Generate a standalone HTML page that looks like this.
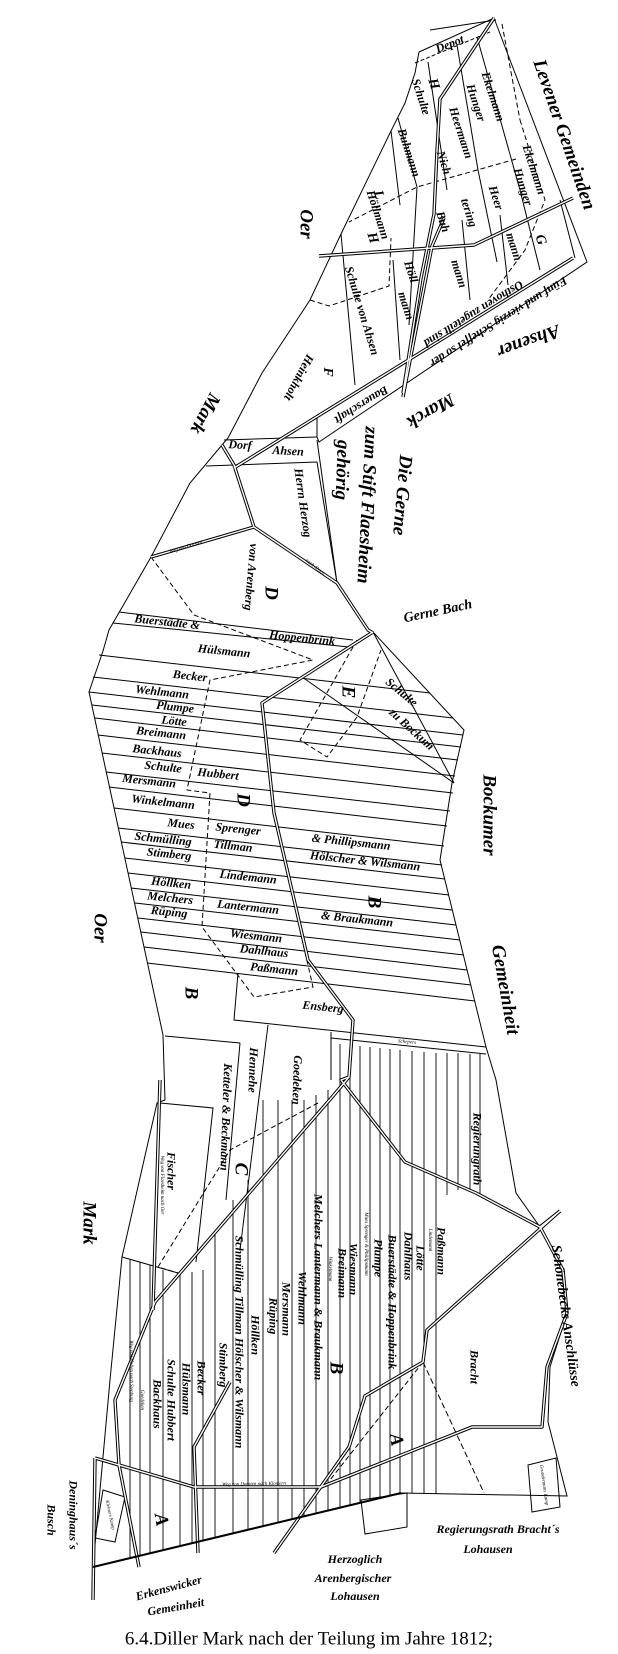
<!DOCTYPE html>
<html><head><meta charset="utf-8"><style>
html,body{margin:0;padding:0;background:#fff;}
svg{display:block;}
text{font-family:"Liberation Serif",serif;font-style:italic;font-weight:bold;fill:#000;}
.s{font-size:12px;}
.m{font-size:14px;}
.b{font-size:19px;}
.t{font-size:5px;font-weight:normal;}
.cap{font-family:"Liberation Serif",serif;font-style:normal;font-weight:normal;font-size:19px;}
</style></head><body>
<svg width="618" height="1654" viewBox="0 0 618 1654" xmlns="http://www.w3.org/2000/svg">
<g fill="none" stroke="#000" stroke-width="1">
<polyline points="419,52 415,73 405,103 391,131 341,234 310,300 262,373 228,438 222,445 190,483 151,557 109,630 103,651 89,692 163,1035 165,1100 157,1103 122,1257 110,1380 93,1567 401,1493 567,1496 548,1422 550,1367 567,1313 563,1270 540,1227 516,1193 496,1080 486,1047 440,860 452,783 464,730 373,632"/>
<polyline points="419,52 494,18 587,262 319,442 317,437 317,417"/>
<polyline points="317,440 337,583 368,630"/>
<line x1="415" y1="63" x2="490" y2="32" stroke-dasharray="4,2"/>
<line x1="502" y1="24" x2="520" y2="120" stroke-dasharray="5,3"/>
<polyline points="520,120 545,200 525,250 488,300" stroke-dasharray="5,3"/>
<line x1="428" y1="62" x2="447" y2="190"/>
<line x1="457" y1="45" x2="478" y2="170"/>
<line x1="478" y1="170" x2="497" y2="262"/>
<line x1="477" y1="37" x2="520" y2="190"/>
<line x1="520" y1="190" x2="540" y2="270"/>
<line x1="560" y1="200" x2="575" y2="258"/>
<line x1="398" y1="118" x2="417" y2="187"/>
<line x1="417" y1="187" x2="409" y2="325"/>
<line x1="391" y1="131" x2="400" y2="205"/>
<line x1="341" y1="234" x2="355" y2="385"/>
<line x1="393" y1="260" x2="400" y2="360"/>
<line x1="462" y1="220" x2="470" y2="300"/>
<line x1="500" y1="215" x2="508" y2="285"/>
<polyline points="516,159 417,187 349,222" stroke-dasharray="5,3"/>
<polyline points="310,300 329,306 389,286 391,238" stroke-dasharray="5,3"/>
<line x1="496" y1="20" x2="430" y2="30"/>
<polyline points="224,440 317,437"/>
<polyline points="206,466 317,462"/>
<line x1="317" y1="462" x2="337" y2="583"/>
<polyline points="151,557 194,615 313,660 210,680 187,790 210,793 202,927 254,997 313,987 300,930" stroke-dasharray="5,3"/>
<polyline points="357,640 300,740 327,757 357,717 381,650" stroke-dasharray="5,3"/>
<line x1="119" y1="612" x2="353" y2="640"/>
<line x1="113" y1="623" x2="349" y2="647"/>
<line x1="373" y1="632" x2="454" y2="783"/>
<line x1="302" y1="677" x2="454" y2="783"/>
<line x1="99" y1="655" x2="430" y2="693"/>
<line x1="93" y1="677" x2="453" y2="718"/>
<line x1="89" y1="692" x2="463" y2="735"/>
<line x1="92" y1="705" x2="461" y2="747"/>
<line x1="95" y1="718" x2="458" y2="760"/>
<line x1="98" y1="735" x2="455" y2="776"/>
<line x1="102" y1="753" x2="453" y2="793"/>
<line x1="106" y1="772" x2="450" y2="811"/>
<line x1="109" y1="787" x2="447" y2="826"/>
<line x1="114" y1="808" x2="444" y2="846"/>
<line x1="118" y1="828" x2="442" y2="865"/>
<line x1="121" y1="842" x2="445" y2="879"/>
<line x1="125" y1="858" x2="449" y2="895"/>
<line x1="128" y1="873" x2="452" y2="910"/>
<line x1="131" y1="888" x2="456" y2="925"/>
<line x1="135" y1="903" x2="460" y2="940"/>
<line x1="138" y1="918" x2="464" y2="955"/>
<line x1="141" y1="932" x2="467" y2="970"/>
<line x1="144" y1="947" x2="471" y2="985"/>
<line x1="147" y1="963" x2="475" y2="1001"/>
<polyline points="238,973 234,1020 486,1047"/>
<line x1="331" y1="1038" x2="486" y2="1054"/>
<line x1="165" y1="1036" x2="240" y2="1043"/>
<line x1="240" y1="1043" x2="226" y2="1200"/>
<line x1="268" y1="1025" x2="240" y2="1250"/>
<line x1="331" y1="1032" x2="331" y2="1080"/>
<polyline points="160,1103 213,1108 196,1262"/>
<polyline points="122,1257 178,1273"/>
<polyline points="318,1103 230,1150 158,1267 178,1273" stroke-dasharray="5,3"/>
<polyline points="423,1362 484,1493" stroke-dasharray="6,3"/>
<line x1="423" y1="1362" x2="330" y2="1480" stroke-dasharray="5,3"/>
<polygon points="361,1500 407,1493 407,1527 365,1534"/>
<polygon points="528,1465 556,1458 560,1507 532,1512"/>
<polygon points="103,1490 125,1497 115,1542 95,1538"/>
</g>
<g stroke="#000" stroke-width="0.9">
<line x1="340" y1="1044" x2="340" y2="1508"/><line x1="350" y1="1045" x2="350" y2="1505"/>
<line x1="360" y1="1046" x2="360" y2="1503"/><line x1="370" y1="1047" x2="370" y2="1500"/>
<line x1="380" y1="1048" x2="380" y2="1498"/><line x1="390" y1="1049" x2="390" y2="1496"/>
<line x1="400" y1="1050" x2="400" y2="1493"/><line x1="412" y1="1051" x2="412" y2="1493"/>
<line x1="424" y1="1052" x2="424" y2="1494"/><line x1="436" y1="1053" x2="436" y2="1494"/>
<line x1="447" y1="1053" x2="447" y2="1195"/><line x1="458" y1="1053" x2="458" y2="1190"/>
<line x1="470" y1="1054" x2="470" y2="1190"/><line x1="480" y1="1054" x2="480" y2="1195"/>
<line x1="328" y1="1090" x2="328" y2="1511"/><line x1="316" y1="1095" x2="316" y2="1514"/>
<line x1="304" y1="1100" x2="304" y2="1517"/><line x1="292" y1="1100" x2="292" y2="1520"/>
<line x1="278" y1="1100" x2="278" y2="1523"/><line x1="263" y1="1100" x2="263" y2="1527"/>
<line x1="248" y1="1180" x2="248" y2="1530"/><line x1="233" y1="1200" x2="233" y2="1534"/>
<line x1="215" y1="1230" x2="215" y2="1538"/><line x1="203" y1="1270" x2="203" y2="1541"/>
<line x1="192" y1="1272" x2="192" y2="1544"/><line x1="180" y1="1275" x2="180" y2="1546"/>
<line x1="163" y1="1270" x2="163" y2="1550"/><line x1="150" y1="1265" x2="150" y2="1553"/>
<line x1="140" y1="1262" x2="140" y2="1556"/><line x1="130" y1="1260" x2="130" y2="1558"/>
</g>
<g fill="none" stroke-linejoin="round">
<g stroke="#000" stroke-width="3.4">
<polyline points="494,18 440,99 437,151 434,214 421,278 403,393"/>
<polyline points="403,397 432,246 444,218"/>
<polyline points="319,256 474,245 573,198"/>
<polyline points="573,258 234,468"/>
<polyline points="222,445 234,465 254,527 337,583 368,630 373,633"/>
<polyline points="151,557 254,527"/>
<polyline points="373,632 262,703 274,813 308,960 353,1020 349,1077 341,1080 405,1162 476,1193 540,1227 560,1211"/>
<polyline points="349,1077 333,1096 155,1302 115,1400 119,1465 139,1567"/>
<polyline points="540,1227 563,1270 567,1313 547,1367 542,1427 472,1427 321,1487 194,1487 95,1458"/>
<polyline points="560,1211 427,1330 423,1362 365,1396 349,1447 274,1553"/>
<polyline points="230,1382 194,1447 198,1553"/>
<polyline points="160,1080 153,1310"/>
<polyline points="95,1458 93,1600"/>
</g>
<g stroke="#fff" stroke-width="1.4">
<polyline points="494,18 440,99 437,151 434,214 421,278 403,393"/>
<polyline points="403,397 432,246 444,218"/>
<polyline points="319,256 474,245 573,198"/>
<polyline points="573,258 234,468"/>
<polyline points="222,445 234,465 254,527 337,583 368,630 373,633"/>
<polyline points="151,557 254,527"/>
<polyline points="373,632 262,703 274,813 308,960 353,1020 349,1077 341,1080 405,1162 476,1193 540,1227 560,1211"/>
<polyline points="349,1077 333,1096 155,1302 115,1400 119,1465 139,1567"/>
<polyline points="540,1227 563,1270 567,1313 547,1367 542,1427 472,1427 321,1487 194,1487 95,1458"/>
<polyline points="560,1211 427,1330 423,1362 365,1396 349,1447 274,1553"/>
<polyline points="230,1382 194,1447 198,1553"/>
<polyline points="160,1080 153,1310"/>
<polyline points="95,1458 93,1600"/>
</g>
</g>
<line x1="93" y1="1567" x2="401" y2="1493" stroke="#000" stroke-width="2"/>
<g text-anchor="middle" dominant-baseline="middle">
<text class="s" transform="translate(450,45) rotate(-22)">Depot</text>
<text class="b" transform="translate(563,135) rotate(71)">Levener Gemeinden</text>
<text class="s" transform="translate(492,97) rotate(72)">Ekelmann</text>
<text class="s" transform="translate(475,103) rotate(72)">Hunger</text>
<text class="s" transform="translate(420,97) rotate(72)">Schulte</text>
<text class="m" transform="translate(433,84) rotate(72)">H</text>
<text class="s" transform="translate(460,133) rotate(72)">Heermann</text>
<text class="s" transform="translate(408,153) rotate(72)">Buhmann</text>
<text class="s" transform="translate(443,163) rotate(72)">Nich</text>
<text class="s" transform="translate(533,170) rotate(72)">Ekelmann</text>
<text class="s" transform="translate(522,187) rotate(72)">Hunger</text>
<text class="s" transform="translate(495,198) rotate(72)">Heer</text>
<text class="s" transform="translate(468,213) rotate(72)">tering</text>
<text class="m" transform="translate(378,195) rotate(72)">L</text>
<text class="s" transform="translate(377,215) rotate(72)">Höllmann</text>
<text class="m" transform="translate(372,238) rotate(72)">H</text>
<text class="s" transform="translate(442,222) rotate(72)">Buh</text>
<text class="s" transform="translate(513,247) rotate(72)">mann</text>
<text class="m" transform="translate(540,240) rotate(72)">G</text>
<text class="b" transform="translate(305,224) rotate(90)">Oer</text>
<text class="s" transform="translate(410,272) rotate(72)">Höll</text>
<text class="s" transform="translate(405,306) rotate(72)">mann</text>
<text class="s" transform="translate(458,274) rotate(72)">mann</text>
<text class="s" transform="translate(361,311) rotate(73)">Schulte von Ahsen</text>
<text class="s" transform="translate(473,313) rotate(148)">Osthoven zugeteilt sind</text>
<text class="s" transform="translate(498,321) rotate(148)">Fünf und vierzig Scheffel so der</text>
<text class="s" transform="translate(361,404) rotate(148)">Bauerschaft</text>
<text class="b" transform="translate(528,340) rotate(160)">Ahsener</text>
<text class="b" transform="translate(430,410) rotate(150)">Marck</text>
<text class="b" transform="translate(204,413) rotate(118)">Mark</text>
<text class="m" transform="translate(327,372) rotate(90)">F</text>
<text class="s" transform="translate(298,377) rotate(118)">Heinkholt</text>
<text class="s" transform="translate(240,446) rotate(3)">Dorf</text>
<text class="s" transform="translate(288,452) rotate(3)">Ahsen</text>
<text class="s" transform="translate(302,503) rotate(82)">Herrn Herzog</text>
<text class="b" transform="translate(366,505) rotate(93)">zum Stift Flaesheim</text>
<text class="b" transform="translate(341,470) rotate(92)">gehörig</text>
<text class="b" transform="translate(401,495) rotate(95)">Die Gerne</text>
<text class="s" transform="translate(250,577) rotate(95)">von Arenberg</text>
<text class="b" transform="translate(270,593) rotate(90)">D</text>
<text class="m" transform="translate(438,612) rotate(-12)">Gerne Bach</text>
<text class="t" transform="translate(186,547) rotate(-18)">Weg von Dorsten</text>
<text class="t" transform="translate(315,567) rotate(38)">nach Ahsen</text>
<text class="s" transform="translate(167,623) rotate(6)">Buerstädte &amp;</text>
<text class="s" transform="translate(302,639) rotate(6)">Hoppenbrink</text>
<text class="s" transform="translate(224,652) rotate(6)">Hülsmann</text>
<text class="s" transform="translate(190,677) rotate(6)">Becker</text>
<text class="s" transform="translate(162,693) rotate(6)">Wehlmann</text>
<text class="s" transform="translate(175,708) rotate(6)">Plumpe</text>
<text class="s" transform="translate(174,722) rotate(6)">Lötte</text>
<text class="s" transform="translate(161,734) rotate(6)">Breimann</text>
<text class="s" transform="translate(157,752) rotate(6)">Backhaus</text>
<text class="s" transform="translate(163,768) rotate(6)">Schulte</text>
<text class="s" transform="translate(218,775) rotate(6)">Hubbert</text>
<text class="s" transform="translate(149,782) rotate(6)">Mersmann</text>
<text class="s" transform="translate(163,803) rotate(6)">Winkelmann</text>
<text class="b" transform="translate(242,800) rotate(90)">D</text>
<text class="s" transform="translate(181,825) rotate(6)">Mues</text>
<text class="s" transform="translate(238,830) rotate(6)">Sprenger</text>
<text class="s" transform="translate(163,840) rotate(6)">Schmülling</text>
<text class="s" transform="translate(233,847) rotate(6)">Tillman</text>
<text class="s" transform="translate(351,843) rotate(6)">&amp; Phillipsmann</text>
<text class="s" transform="translate(169,855) rotate(6)">Stimberg</text>
<text class="s" transform="translate(365,862) rotate(6)">Hölscher &amp; Wilsmann</text>
<text class="s" transform="translate(248,878) rotate(6)">Lindemann</text>
<text class="s" transform="translate(171,884) rotate(6)">Höllken</text>
<text class="s" transform="translate(170,899) rotate(6)">Melchers</text>
<text class="s" transform="translate(248,908) rotate(6)">Lantermann</text>
<text class="b" transform="translate(373,902) rotate(90)">B</text>
<text class="s" transform="translate(169,913) rotate(6)">Rüping</text>
<text class="s" transform="translate(357,920) rotate(6)">&amp; Braukmann</text>
<text class="s" transform="translate(256,937) rotate(6)">Wiesmann</text>
<text class="s" transform="translate(264,952) rotate(6)">Dahlhaus</text>
<text class="s" transform="translate(274,970) rotate(6)">Paßmann</text>
<text class="b" transform="translate(190,993) rotate(90)">B</text>
<text class="s" transform="translate(323,1008) rotate(6)">Ensberg</text>
<text class="b" transform="translate(347,692) rotate(90)">E</text>
<text class="s" transform="translate(401,693) rotate(40)">Schulte</text>
<text class="s" transform="translate(411,730) rotate(42)">zu Bockum</text>
<text class="b" transform="translate(488,815) rotate(90)">Bockumer</text>
<text class="b" transform="translate(504,990) rotate(80)">Gemeinheit</text>
<text class="b" transform="translate(99,928) rotate(90)">Oer</text>
<text class="t" transform="translate(407,1042) rotate(5)">Schepers</text>
<text class="s" transform="translate(252,1070) rotate(92)">Hennehe</text>
<text class="s" transform="translate(225,1117) rotate(92)">Ketteler &amp; Beckmann</text>
<text class="s" transform="translate(296,1080) rotate(92)">Goedeken</text>
<text class="s" transform="translate(170,1171) rotate(90)">Fischer</text>
<text class="t" transform="translate(162,1185) rotate(90)">Weg von Flaesheim nach Oer</text>
<text class="b" transform="translate(240,1169) rotate(90)">C</text>
<text class="b" transform="translate(88,1223) rotate(90)">Mark</text>
<text class="s" transform="translate(476,1149) rotate(90)">Regierungrath</text>
<text class="s" transform="translate(440,1251) rotate(90)">Paßmann</text>
<text class="t" transform="translate(430,1240) rotate(90)">Lindemann</text>
<text class="s" transform="translate(419,1258) rotate(90)">Lötte</text>
<text class="s" transform="translate(407,1256) rotate(90)">Dahlhaus</text>
<text class="s" transform="translate(391,1302) rotate(90)">Buerstädte &amp; Hoppenbrink</text>
<text class="s" transform="translate(377,1258) rotate(90)">Plumpe</text>
<text class="t" transform="translate(366,1244) rotate(90)">Mues Sprenger &amp; Phillipsmann</text>
<text class="s" transform="translate(352,1269) rotate(90)">Wiesmann</text>
<text class="s" transform="translate(341,1273) rotate(90)">Breimann</text>
<text class="t" transform="translate(330,1269) rotate(90)">Winkelmann</text>
<text class="s" transform="translate(317,1287) rotate(90)">Melchers Lantermann &amp; Braukmann</text>
<text class="s" transform="translate(301,1298) rotate(90)">Wehlmann</text>
<text class="s" transform="translate(285,1309) rotate(90)">Mersmann</text>
<text class="s" transform="translate(272,1316) rotate(90)">Rüping</text>
<text class="s" transform="translate(254,1335) rotate(90)">Höllken</text>
<text class="s" transform="translate(238,1342) rotate(90)">Schmülling Tillman Hölscher &amp; Wilsmann</text>
<text class="s" transform="translate(222,1365) rotate(90)">Stimberg</text>
<text class="b" transform="translate(335,1368) rotate(90)">B</text>
<text class="s" transform="translate(200,1378) rotate(90)">Becker</text>
<text class="s" transform="translate(185,1389) rotate(90)">Hülsmann</text>
<text class="s" transform="translate(170,1400) rotate(90)">Schulte Hubbert</text>
<text class="s" transform="translate(156,1404) rotate(90)">Backhaus</text>
<text class="t" transform="translate(142,1400) rotate(90)">Goedeken</text>
<text class="t" transform="translate(131,1371) rotate(90)">Weg von Hallen nach Stenburg</text>
<text class="s" transform="translate(473,1367) rotate(90)">Bracht</text>
<text class="m" transform="translate(565,1316) rotate(82)">Schönebecks Anschlüsse</text>
<text class="b" transform="translate(395,1440) rotate(80)">A</text>
<text class="b" transform="translate(160,1520) rotate(80)">A</text>
<text class="t" transform="translate(254,1484) rotate(-1)">Weg von Dorsten nach Klostern</text>
<text class="t" transform="translate(110,1515) rotate(78)">Kleiners Kamp</text>
<text class="t" transform="translate(544,1485) rotate(82)">Grundermans Kamp</text>
<text class="s" transform="translate(498,1530)">Regierungsrath Bracht´s</text>
<text class="s" transform="translate(488,1550)">Lohausen</text>
<text class="s" transform="translate(355,1560)">Herzoglich</text>
<text class="s" transform="translate(353,1579)">Arenbergischer</text>
<text class="s" transform="translate(355,1597)">Lohausen</text>
<text class="s" transform="translate(169,1589) rotate(-15)">Erkenswicker</text>
<text class="s" transform="translate(176,1608) rotate(-10)">Gemeinheit</text>
<text class="s" transform="translate(72,1515) rotate(90)">Deninghaus´s</text>
<text class="s" transform="translate(50,1520) rotate(90)">Busch</text>
<text class="cap" x="309" y="1640">6.4.Diller Mark nach der Teilung im Jahre 1812;</text>
</g>
</svg>
</body></html>
